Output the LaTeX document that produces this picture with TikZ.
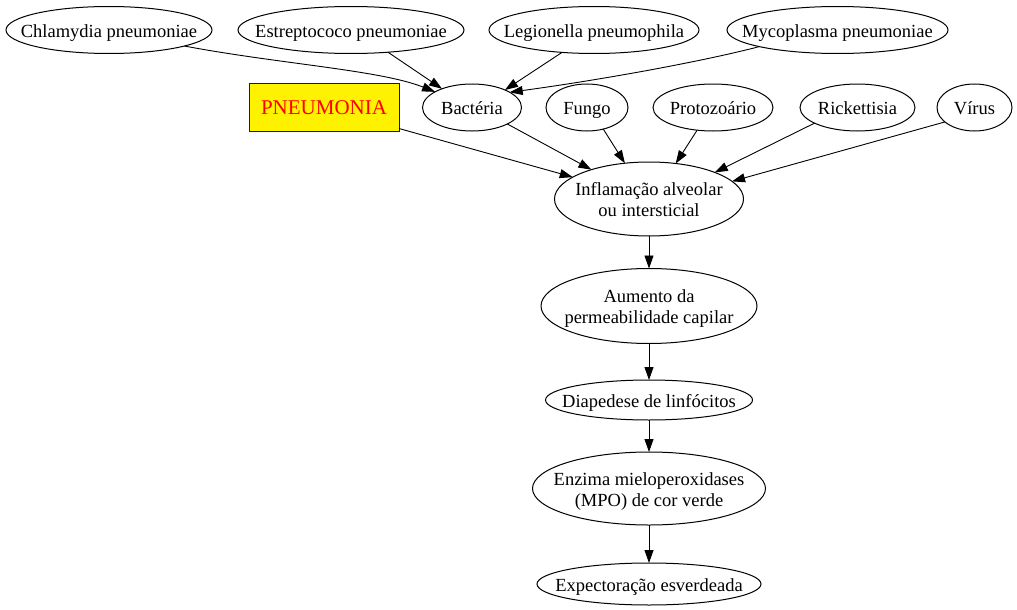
\documentclass[tikz,border=0pt]{standalone}
\usepackage{fontspec}
\setmainfont{Liberation Serif}
\usetikzlibrary{shapes.geometric,arrows.meta}
\newcommand{\zt}[1]{\makebox[0pt]{\raisebox{-7.4pt}[0pt][0pt]{\begin{tabular}{@{}c@{}}#1\end{tabular}}}}
\begin{document}
\begin{tikzpicture}[x=1pt,y=-1pt,
  ell/.style={draw,ellipse,inner sep=0pt,outer sep=0pt,line width=1pt,
    font=\fontsize{18.5}{21}\selectfont},
  boxnode/.style={draw=blue,fill=yellow,text=red,rectangle,inner sep=0pt,outer sep=0pt,
    line width=1pt,font=\fontsize{21}{24}\selectfont},
  arr/.style={-{Triangle[length=13pt,width=9pt]},line width=0.9pt}]
\useasboundingbox (0,0) rectangle (1017,610);
% top row
\node[ell,minimum width=206pt,minimum height=47pt] (chl) at (109,30) {\zt{Chlamydia pneumoniae}};
\node[ell,minimum width=226pt,minimum height=47pt] (est) at (351,30) {\zt{Estreptococo pneumoniae}};
\node[ell,minimum width=210pt,minimum height=47pt] (leg) at (594,30) {\zt{Legionella pneumophila}};
\node[ell,minimum width=221pt,minimum height=47pt] (myc) at (837.5,30) {\zt{Mycoplasma pneumoniae}};
% second row
\node[boxnode,minimum width=150pt,minimum height=48pt] (pn) at (324,107) {\zt{PNEUMONIA}};
\node[ell,minimum width=99pt,minimum height=47pt] (bac) at (472,107.5) {\zt{Bactéria}};
\node[ell,minimum width=82pt,minimum height=47pt] (fun) at (587,107.5) {\zt{Fungo}};
\node[ell,minimum width=120pt,minimum height=47pt] (pro) at (713,107.5) {\zt{Protozoário}};
\node[ell,minimum width=115pt,minimum height=47pt] (ric) at (857.5,107.5) {\zt{Rickettisia}};
\node[ell,minimum width=75pt,minimum height=47pt] (vir) at (974.5,107.5) {\zt{Vírus}};
% chain
\node[ell,minimum width=189pt,minimum height=74pt] (inf) at (649,199) {\zt{Inflamação alveolar\\ou intersticial}};
\node[ell,minimum width=216pt,minimum height=75pt] (aum) at (649,306) {\zt{Aumento da\\permeabilidade capilar}};
\node[ell,minimum width=207pt,minimum height=40pt] (dia) at (649,400) {\zt{Diapedese de linfócitos}};
\node[ell,minimum width=233pt,minimum height=73pt] (enz) at (649,488.5) {\zt{Enzima mieloperoxidases\\(MPO) de cor verde}};
\node[ell,minimum width=224pt,minimum height=42pt] (exp) at (649,584) {\zt{Expectoração esverdeada}};
% edges to Bacteria
\draw[arr] (chl.-12) .. controls (280,64) and (380,70) .. (bac.157);
\draw[arr] (est.-31) -- (bac.148);
\draw[arr] (leg.-145) -- (bac.28);
\draw[arr] (myc.-168) .. controls (700,62) and (600,80) .. (bac.22);
% edges to Inflamacao
\draw[arr] (pn.-16) -- (inf.164);
\draw[arr] (bac.-25) -- (inf.153);
\draw[arr] (fun.-53) -- (inf.124);
\draw[arr] (pro.-125) -- (inf.53);
\draw[arr] (ric.-160) -- (inf.22);
\draw[arr] (vir.-154) -- (inf.12);
% chain
\draw[arr] (inf) -- (aum);
\draw[arr] (aum) -- (dia);
\draw[arr] (dia) -- (enz);
\draw[arr] (enz) -- (exp);
\end{tikzpicture}
\end{document}
